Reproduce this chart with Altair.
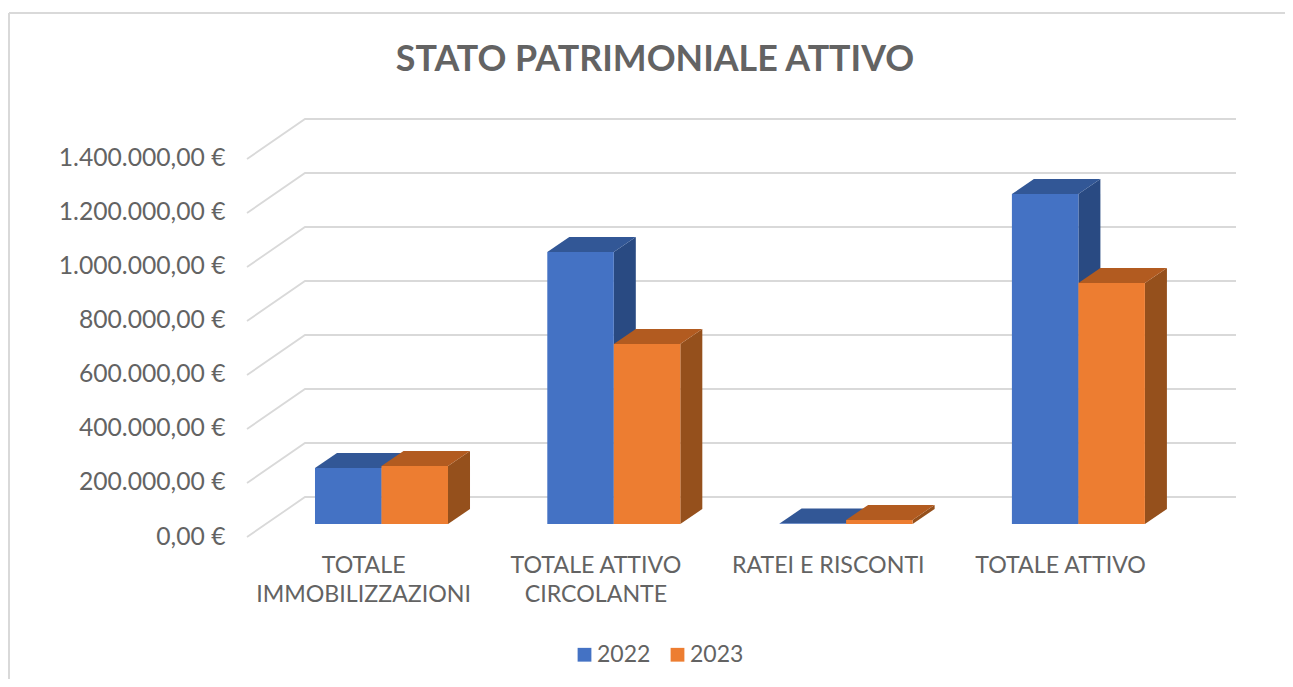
import altair as alt
import pandas as pd

title = "STATO PATRIMONIALE ATTIVO"
categories = ["TOTALE IMMOBILIZZAZIONI", "TOTALE ATTIVO CIRCOLANTE", "RATEI E RISCONTI", "TOTALE ATTIVO"]
category_lines = [["TOTALE", "IMMOBILIZZAZIONI"], ["TOTALE ATTIVO", "CIRCOLANTE"], ["RATEI E RISCONTI"], ["TOTALE ATTIVO"]]
years = ["2022", "2023"]
values = {
    "2022": [207000, 1007000, 2000, 1222000],
    "2023": [215000, 667000, 15000, 893000],
}
tick_values = [0, 200000, 400000, 600000, 800000, 1000000, 1200000, 1400000]
tick_labels = ["0,00 €", "200.000,00 €", "400.000,00 €", "600.000,00 €", "800.000,00 €",
               "1.000.000,00 €", "1.200.000,00 €", "1.400.000,00 €"]
front_colors = ["#4472C4", "#ED7D31"]
top_colors = ["#325796", "#B25B20"]
side_colors = ["#294A82", "#95501C"]
grid_color = "#D9D9D9"
text_color = "#636363"
font = "Lato"

# Oblique projection, expressed in the units of the two scales
X_MAX, Y_MAX = 4.2574, 1544444
BAR_START, BAR_WIDTH = 0.2927, 0.2863
BAR_DEPTH_X, BAR_DEPTH_Y = 0.0947, 55556
BAR_PLANE_Y = 48148
WALL_X, WALL_Y = 0.2497, 148148

x_scale = alt.Scale(domain=[0, X_MAX], nice=False, zero=False)
y_scale = alt.Scale(domain=[0, Y_MAX], nice=False, zero=False)
x_axis = alt.Axis(
    values=[i + 0.5 for i in range(len(categories))],
    labelExpr=f"{category_lines}[floor(datum.value)]",
    title=None, domain=False, ticks=False, grid=False, labelOverlap=False, labelBound=False,
    labelFont=font, labelFontSize=23.2, labelColor=text_color, labelPadding=17, labelLimit=400,
    labelLineHeight=29, labelBaseline="top", labelAlign="center", labelFlush=False)
y_axis = alt.Axis(
    values=tick_values,
    labelExpr=f"{tick_labels}[round(datum.value / 200000)]",
    title=None, domain=False, ticks=False, grid=False, labelOverlap=False, labelBound=False,
    labelFont=font, labelFontSize=24.7, labelColor=text_color, labelPadding=22, labelLimit=400,
    labelOffset=0, labelFlush=False)
x_plain = alt.X("x:Q", scale=x_scale, axis=x_axis)
y_plain = alt.Y("y:Q", scale=y_scale, axis=y_axis)

# Grid: diagonal on the side wall, then straight along the back wall
grid_rows = []
for t in tick_values:
    for gx, gy in [(0, t), (WALL_X, t + WALL_Y), (X_MAX, t + WALL_Y)]:
        grid_rows.append({"tick": t, "x": gx, "y": gy})
grid = alt.Chart(pd.DataFrame(grid_rows)).mark_line(
    color=grid_color, strokeWidth=1.8, clip=False
).encode(x=x_plain, y=y_plain, detail="tick:N", order=alt.Order("x:Q"))

layers = [grid]
for yi, year in enumerate(years):
    front, side, top = [], [], []
    for ci, cat in enumerate(categories):
        left = ci + BAR_START + yi * BAR_WIDTH
        right = left + BAR_WIDTH
        low = BAR_PLANE_Y
        high = BAR_PLANE_Y + values[year][ci]
        front.append({"cat": cat, "year": year, "x": left, "x2": right, "y": low, "y2": high})
        for d in (0, 1):
            side.append({"cat": cat, "x": right + d * BAR_DEPTH_X,
                         "y": high + d * BAR_DEPTH_Y, "y2": low + d * BAR_DEPTH_Y})
            top.append({"cat": cat, "y": high + d * BAR_DEPTH_Y,
                        "x": left + d * BAR_DEPTH_X, "x2": right + d * BAR_DEPTH_X})
    layers.append(alt.Chart(pd.DataFrame(side)).mark_area(
        color=side_colors[yi], orient="vertical"
    ).encode(x=x_plain, y=y_plain, y2="y2:Q", detail="cat:N"))
    layers.append(alt.Chart(pd.DataFrame(top)).mark_area(
        color=top_colors[yi], orient="horizontal"
    ).encode(y=y_plain, x=x_plain, x2="x2:Q", detail="cat:N"))
    layers.append(alt.Chart(pd.DataFrame(front)).mark_rect().encode(
        x=x_plain, x2="x2:Q", y=y_plain, y2="y2:Q",
        color=alt.Color("year:N", scale=alt.Scale(domain=years, range=front_colors),
                        legend=alt.Legend(
                            title=None, orient="none", direction="horizontal",
                            legendX=326, legendY=523, symbolType="square", symbolSize=190,
                            symbolStrokeWidth=0, labelFont=font, labelFontSize=23,
                            labelColor=text_color, columnPadding=15, labelOffset=1)),
    ))

# Outer frame of the picture
one = pd.DataFrame({"k": [0]})
frame_top = alt.Chart(one).mark_rule(color=grid_color, strokeWidth=2, clip=False).encode(
    x=alt.value(-238), x2=alt.value(1038), y=alt.value(-107))
frame_left = alt.Chart(one).mark_rule(color=grid_color, strokeWidth=2, clip=False).encode(
    x=alt.value(-238), y=alt.value(-107), y2=alt.value(560))
title_mark = alt.Chart(pd.DataFrame({"t": [title]})).mark_text(
    font=font, fontSize=35.8, fontWeight="bold", color=text_color, align="center", baseline="alphabetic"
).encode(x=alt.value(408), y=alt.value(-49), text="t:N")
layers += [frame_top, frame_left, title_mark]

chart = alt.layer(*layers).resolve_scale(color="shared").properties(
    width=989, height=417,
    padding={"left": 239, "top": 112, "right": 49, "bottom": 142},
    autosize=alt.AutoSizeParams(type="none"),
).configure_view(stroke=None)

chart.save("out.html", embed_options={"renderer": "svg", "actions": False})
